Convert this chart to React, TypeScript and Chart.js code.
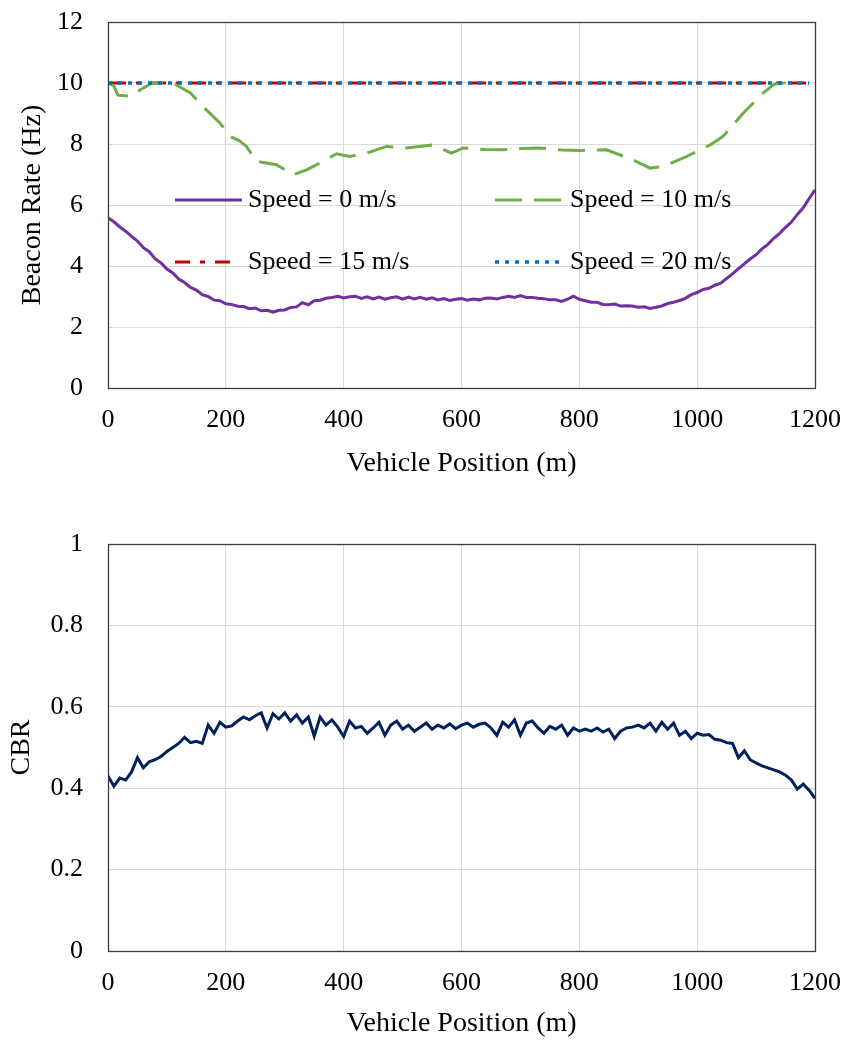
import { useEffect, useRef } from "react";
import { Chart, registerables } from "chart.js";

Chart.register(...registerables);

const FONT = "'Liberation Serif', 'Times New Roman', serif";

// Vehicle positions (m) at which the noisy curves are sampled
const POSITIONS = [
  0, 10, 20, 30, 40, 50, 60, 70, 80, 90, 100, 110, 120, 130, 140, 150, 160, 170, 180, 190,
  200, 210, 220, 230, 240, 250, 260, 270, 280, 290, 300, 310, 320, 330, 340, 350, 360, 370, 380, 390,
  400, 410, 420, 430, 440, 450, 460, 470, 480, 490, 500, 510, 520, 530, 540, 550, 560, 570, 580, 590,
  600, 610, 620, 630, 640, 650, 660, 670, 680, 690, 700, 710, 720, 730, 740, 750, 760, 770, 780, 790,
  800, 810, 820, 830, 840, 850, 860, 870, 880, 890, 900, 910, 920, 930, 940, 950, 960, 970, 980, 990,
  1000, 1010, 1020, 1030, 1040, 1050, 1060, 1070, 1080, 1090, 1100, 1110, 1120, 1130, 1140, 1150, 1160, 1170, 1180, 1190,
  1200,
];

// Beacon rate (Hz), speed = 0 m/s
const SPEED0_RATE = [
  5.58, 5.45, 5.28, 5.14, 4.97, 4.82, 4.6, 4.47, 4.24, 4.1, 3.9, 3.77, 3.57, 3.46, 3.3, 3.21, 3.06, 3.0, 2.88, 2.86,
  2.76, 2.74, 2.68, 2.67, 2.6, 2.62, 2.53, 2.55, 2.49, 2.55, 2.56, 2.64, 2.66, 2.8, 2.73, 2.86, 2.88, 2.94, 2.97, 3.01,
  2.95, 2.99, 3.01, 2.94, 2.99, 2.92, 2.98, 2.91, 2.96, 2.99, 2.91, 2.98, 2.92, 2.97, 2.91, 2.96, 2.89, 2.93, 2.87, 2.91,
  2.93, 2.88, 2.92, 2.89, 2.94, 2.95, 2.92, 2.97, 3.01, 2.97, 3.03, 2.97, 2.97, 2.94, 2.93, 2.89, 2.89, 2.84, 2.91, 3.01,
  2.91, 2.86, 2.81, 2.81, 2.74, 2.73, 2.75, 2.69, 2.7, 2.69, 2.65, 2.66, 2.61, 2.65, 2.69, 2.77, 2.81, 2.87, 2.94, 3.06,
  3.13, 3.23, 3.27, 3.37, 3.44, 3.59, 3.74, 3.91, 4.07, 4.23, 4.37, 4.56, 4.71, 4.91, 5.07, 5.27, 5.44, 5.69, 5.91, 6.21,
  6.5,
];

// Beacon rate (Hz), speed = 10 m/s
const SPEED10_POS = [
  0, 10, 17, 30, 42, 55, 75, 110, 140, 167, 190, 207, 222, 235, 252, 286, 314, 337, 359, 388,
  410, 439, 473, 507, 552, 583, 603, 640, 671, 700, 733, 770, 801, 846, 891, 920, 942, 982, 1022, 1044,
  1078, 1112, 1129, 1140, 1175,
];
const SPEED10_RATE = [
  10.02, 9.9, 9.6, 9.58, 9.57, 9.78, 10.0, 10.0, 9.67, 9.12, 8.69, 8.25, 8.12, 7.92, 7.43, 7.32, 6.99, 7.15, 7.37, 7.68,
  7.59, 7.7, 7.92, 7.87, 7.97, 7.7, 7.87, 7.82, 7.81, 7.85, 7.87, 7.8, 7.79, 7.81, 7.48, 7.21, 7.26, 7.59, 7.97, 8.25,
  9.01, 9.67, 9.94, 10.0, 10.0,
];

// Beacon rate (Hz), speed = 15 m/s and 20 m/s
const SPEED15_POS = [5, 1190];
const SPEED15_RATE = [10, 10];
const SPEED20_POS = [0, 1190];
const SPEED20_RATE = [10, 10];

// Channel busy ratio
const CBR_VALUES = [
  0.43, 0.405, 0.425, 0.42, 0.44, 0.475, 0.45, 0.465, 0.47, 0.478, 0.49, 0.5, 0.51, 0.525, 0.512, 0.515, 0.51, 0.555, 0.535, 0.562,
  0.55, 0.553, 0.565, 0.575, 0.568, 0.578, 0.585, 0.548, 0.583, 0.57, 0.585, 0.565, 0.58, 0.56, 0.575, 0.528, 0.575, 0.555, 0.568, 0.55,
  0.527, 0.565, 0.548, 0.552, 0.535, 0.548, 0.562, 0.53, 0.555, 0.565, 0.545, 0.555, 0.54, 0.55, 0.56, 0.545, 0.555, 0.548, 0.558, 0.546,
  0.555, 0.56, 0.55, 0.557, 0.56, 0.548, 0.53, 0.562, 0.55, 0.568, 0.53, 0.56, 0.565, 0.548, 0.535, 0.552, 0.545, 0.555, 0.53, 0.548,
  0.54, 0.545, 0.54, 0.548, 0.538, 0.545, 0.522, 0.54, 0.548, 0.55, 0.555, 0.548, 0.56, 0.54, 0.562, 0.545, 0.56, 0.53, 0.54, 0.522,
  0.535, 0.53, 0.532, 0.52, 0.518, 0.512, 0.51, 0.475, 0.492, 0.47, 0.462, 0.455, 0.45, 0.445, 0.44, 0.432, 0.42, 0.398, 0.41, 0.395,
  0.375,
];

const LEGEND_LABELS = ["Speed = 0 m/s", "Speed = 10 m/s", "Speed = 15 m/s", "Speed = 20 m/s"];
// column / row of each legend entry inside the plot
const LEGEND_COL = [0, 1, 0, 1];
const LEGEND_ROW = [0, 0, 1, 1];

const X_TITLE = "Vehicle Position (m)";
const RATE_TITLE = "Beacon Rate (Hz)";
const CBR_TITLE = "CBR";

const pts = (xs: number[], ys: number[]) => xs.map((x, i) => ({ x, y: ys[i] }));

const plainTick = (v: any) => String(Number(Number(v).toFixed(3)));

const framePlugin = {
  id: "frame",
  afterDatasetsDraw(chart: any) {
    const { ctx, chartArea } = chart;
    ctx.save();
    ctx.strokeStyle = "#3c3c3c";
    ctx.lineWidth = 1.3;
    ctx.strokeRect(
      Math.round(chartArea.left) + 0.5,
      Math.round(chartArea.top) + 0.5,
      Math.round(chartArea.right - chartArea.left),
      Math.round(chartArea.bottom - chartArea.top)
    );
    ctx.restore();
  },
};

const gridLegendPlugin = {
  id: "gridLegend",
  afterDraw(chart: any) {
    const { ctx, chartArea } = chart;
    ctx.save();
    ctx.font = `26px ${FONT}`;
    ctx.textBaseline = "middle";
    ctx.textAlign = "left";
    chart.data.datasets.forEach((ds: any, i: number) => {
      const x0 = chartArea.left + 67 + LEGEND_COL[i] * 320;
      const y = chartArea.top + 178 + LEGEND_ROW[i] * 62;
      const len = ds.legendLen || 67;
      ctx.beginPath();
      ctx.strokeStyle = ds.borderColor;
      ctx.lineWidth = ds.borderWidth;
      ctx.setLineDash(ds.borderDash || []);
      ctx.moveTo(x0, y);
      ctx.lineTo(x0 + len, y);
      ctx.stroke();
      ctx.setLineDash([]);
      ctx.fillStyle = "#000";
      ctx.fillText(LEGEND_LABELS[i], x0 + 73 + LEGEND_COL[i] * 2, y);
    });
    ctx.restore();
  },
};

const noEdgePadding = (s: any) => {
  s.paddingLeft = 0;
  s.paddingRight = 0;
  s.paddingTop = 0;
  s.paddingBottom = 0;
};

function commonScales(yMax: number, yStep: number, yTitle: string, yTitlePad: number, xHeight: number, xTitlePad: number) {
  return {
    x: {
      type: "linear",
      min: 0,
      max: 1200,
      ticks: { stepSize: 200, padding: 17, color: "#000", font: { family: FONT, size: 26 }, callback: plainTick },
      grid: { color: "#d9d9d9", lineWidth: 1, drawTicks: false },
      border: { display: false },
      title: {
        display: true,
        text: X_TITLE,
        color: "#000",
        font: { family: FONT, size: 28 },
        padding: { top: 0, bottom: xTitlePad },
      },
      afterFit: (s: any) => {
        s.height = xHeight;
        noEdgePadding(s);
      },
    },
    y: {
      type: "linear",
      min: 0,
      max: yMax,
      ticks: { stepSize: yStep, padding: 25, color: "#000", font: { family: FONT, size: 26 }, callback: plainTick },
      grid: { color: "#d9d9d9", lineWidth: 1, drawTicks: false },
      border: { display: false },
      title: {
        display: true,
        text: yTitle,
        color: "#000",
        font: { family: FONT, size: 28 },
        padding: { top: yTitlePad, bottom: 0 },
      },
      afterFit: (s: any) => {
        s.width = 108;
        noEdgePadding(s);
      },
    },
  };
}

export default function App() {
  const topRef = useRef<HTMLCanvasElement>(null);
  const botRef = useRef<HTMLCanvasElement>(null);

  useEffect(() => {
    const top = new Chart(topRef.current!, {
      type: "line",
      data: {
        datasets: [
          {
            label: LEGEND_LABELS[0],
            data: pts(POSITIONS, SPEED0_RATE),
            borderColor: "#7030A0",
            borderWidth: 3,
            pointRadius: 0,
            order: 1,
          },
          {
            label: LEGEND_LABELS[1],
            data: pts(SPEED10_POS, SPEED10_RATE),
            borderColor: "#70AD47",
            borderWidth: 3,
            borderDash: [27, 12],
            pointRadius: 0,
            order: 3,
          },
          {
            label: LEGEND_LABELS[2],
            data: pts(SPEED15_POS, SPEED15_RATE),
            borderColor: "#C00000",
            borderWidth: 3,
            borderDash: [15, 10, 5, 10],
            legendLen: 55,
            pointRadius: 0,
            order: 4,
          },
          {
            label: LEGEND_LABELS[3],
            data: pts(SPEED20_POS, SPEED20_RATE),
            borderColor: "#0070C0",
            borderWidth: 3.5,
            borderDash: [4, 6],
            legendLen: 64,
            pointRadius: 0,
            order: 2,
          },
        ] as any,
      },
      options: {
        animation: false,
        responsive: false,
        layout: { padding: { left: 0, right: 30, top: 22, bottom: 0 } },
        plugins: { legend: { display: false }, tooltip: { enabled: false } },
        scales: commonScales(12, 2, RATE_TITLE, 16, 112, 20) as any,
      },
      plugins: [framePlugin, gridLegendPlugin],
    });

    const bot = new Chart(botRef.current!, {
      type: "line",
      data: {
        datasets: [
          {
            label: CBR_TITLE,
            data: pts(POSITIONS, CBR_VALUES),
            borderColor: "#002060",
            borderWidth: 3,
            pointRadius: 0,
          },
        ],
      },
      options: {
        animation: false,
        responsive: false,
        layout: { padding: { left: 0, right: 30, top: 44, bottom: 0 } },
        plugins: { legend: { display: false }, tooltip: { enabled: false } },
        scales: commonScales(1, 0.2, CBR_TITLE, 5, 90, 1) as any,
      },
      plugins: [framePlugin],
    });

    return () => {
      top.destroy();
      bot.destroy();
    };
  }, []);

  return (
    <div style={{ position: "absolute", left: 0, top: 0, width: 845, height: 1041, background: "#fff" }}>
      <canvas ref={topRef} width={845} height={500} style={{ display: "block", width: 845, height: 500 }} />
      <canvas ref={botRef} width={845} height={541} style={{ display: "block", width: 845, height: 541 }} />
    </div>
  );
}
